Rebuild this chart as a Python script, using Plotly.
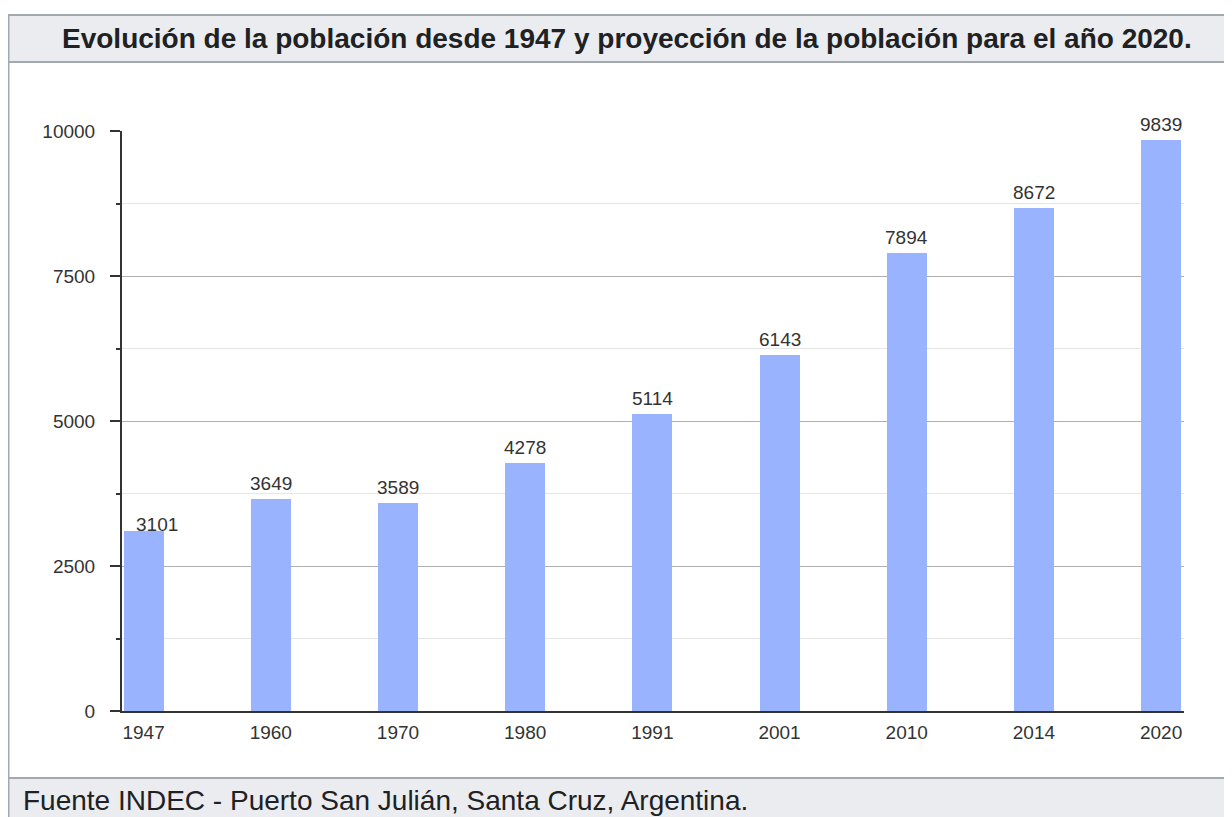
import plotly.graph_objects as go

years = ["1947", "1960", "1970", "1980", "1991", "2001", "2010", "2014", "2020"]
population = [3101, 3649, 3589, 4278, 5114, 6143, 7894, 8672, 9839]
y_ticks = [0, 2500, 5000, 7500, 10000]
title_text = "Evolución de la población desde 1947 y proyección de la población para el año 2020."
footer_text = "Fuente INDEC - Puerto San Julián, Santa Cruz, Argentina."

OFF = 8  # page body margin
W, H = 1232 - OFF, 817 - OFF
L, R, T, B = 122, 1184, 131, 711  # plot area in reference pixels


def px(x):
    return (x - L) / (R - L)


def py(y):
    return (B - y) / (B - T)


FONT = "Liberation Sans, Arial, Helvetica, sans-serif"

fig = go.Figure()
fig.add_trace(go.Bar(
    x=years, y=population,
    marker=dict(color="#99b3ff", line=dict(width=0)),
    width=0.315,
    hoverinfo="x+y",
))

annotations = []
for i, v in enumerate(population):
    annotations.append(dict(
        x=i, y=v, xref="x", yref="y", text=str(v), showarrow=False,
        yanchor="bottom", yshift=-6 if i == 0 else 3, xshift=13 if i == 0 else 0,
        font=dict(family=FONT, size=19, color="#333333"),
    ))

annotations.append(dict(
    x=px(627), y=py(39), xref="paper", yref="paper", text="<b>" + title_text + "</b>",
    showarrow=False, xanchor="center", yanchor="middle",
    font=dict(family=FONT, size=28, color="#202122"),
))
annotations.append(dict(
    x=px(21), y=py(800), xref="paper", yref="paper", text=footer_text,
    showarrow=False, xanchor="left", yanchor="middle",
    font=dict(family=FONT, size=28, color="#202122"),
))

shapes = [
    dict(type="rect", xref="paper", yref="paper", x0=px(8), x1=px(1245), y0=py(15), y1=py(62),
         fillcolor="#eaecf0", line=dict(color="#a2a9b1", width=2), layer="below"),
    dict(type="rect", xref="paper", yref="paper", x0=px(8), x1=px(1245), y0=py(778), y1=py(830),
         fillcolor="#eaecf0", line=dict(color="#a2a9b1", width=2), layer="below"),
    dict(type="line", xref="paper", yref="paper", x0=px(8.5), x1=px(8.5), y0=py(15), y1=py(830),
         line=dict(color="#a2a9b1", width=2), layer="below"),
]

fig.update_layout(
    width=W, height=H,
    margin=dict(l=L - OFF, r=1232 - R, t=T - OFF, b=817 - B, pad=0),
    paper_bgcolor="white", plot_bgcolor="white",
    showlegend=False,
    bargap=0,
    annotations=annotations,
    shapes=shapes,
    font=dict(family=FONT, size=19, color="#333333"),
)
fig.update_xaxes(
    type="category", range=[-0.17, 8.18],
    showline=True, linecolor="#333333", linewidth=2,
    ticks="", showgrid=False, ticklabelstandoff=3,
    tickfont=dict(family=FONT, size=19, color="#333333"),
)
fig.update_yaxes(
    range=[0, 10000], tickvals=y_ticks, ticktext=[str(t) for t in y_ticks],
    showline=True, linecolor="#333333", linewidth=2,
    ticks="outside", ticklen=10, tickcolor="#333333", tickwidth=2,
    showgrid=True, gridcolor="#b0b0b0", gridwidth=1, zeroline=False,
    ticklabelstandoff=11,
    minor=dict(dtick=1250, ticks="outside", ticklen=4, tickcolor="#333333", tickwidth=2,
               showgrid=True, gridcolor="#e6e6e6", gridwidth=1),
    tickfont=dict(family=FONT, size=19, color="#333333"),
)

fig.write_html("out.html")
